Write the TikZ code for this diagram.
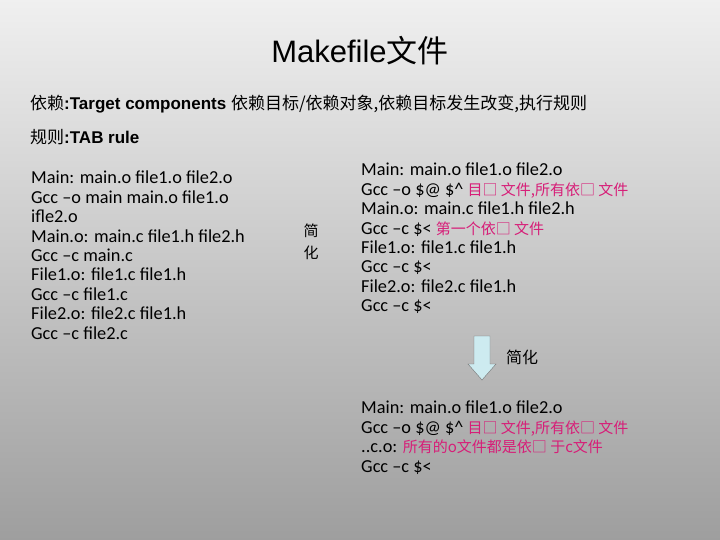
\documentclass[tikz,border=0pt]{standalone}
\usepackage{fontspec}
\setmainfont{Carlito}
\newfontfamily\arialf{Liberation Sans}
\newfontfamily\cjk{Noto Sans CJK SC}
\definecolor{mag}{RGB}{215,30,120}
\definecolor{arrowfill}{RGB}{205,235,240}
\begin{document}
\begin{tikzpicture}[x=1pt,y=-1pt,
  body/.style={anchor=north west,inner sep=0pt,align=left,font=\fontsize{18.3}{19.4}\selectfont},
  hdr/.style={anchor=west,inner sep=0pt,font=\arialf\bfseries\fontsize{17}{18}\selectfont}]
\shade[top color=white!94!black,bottom color=black!38] (0,0) rectangle (720,540);
\useasboundingbox (0,0) rectangle (720,540);
\node[inner sep=0pt,font=\arialf\fontsize{31}{34}\selectfont] (title) at (360,51) {Makefile{\cjk 文件}};
\node[hdr] (h1) at (30,104) {{\cjk\mdseries 依赖}:Target components {\cjk\mdseries 依赖目标/依赖对象,依赖目标发生改变,执行规则}};
\node[hdr] (h2) at (30,137) {{\cjk\mdseries 规则}:TAB rule};
\node[body] (left) at (31,171) {Main: main.o file1.o file2.o\\Gcc –o main main.o file1.o\\ifle2.o\\Main.o: main.c file1.h file2.h\\Gcc –c main.c\\File1.o: file1.c file1.h\\Gcc –c file1.c\\File2.o: file2.c file1.h\\Gcc –c file2.c};
\node[inner sep=0pt,align=center,font=\cjk\fontsize{15}{22}\selectfont] (mid) at (311,242) {简\\化};
\node[body] (right) at (361,163) {Main: main.o file1.o file2.o\\Gcc –o \$@ \$\^{} {\color{mag}\cjk\fontsize{15}{19.4}\selectfont 目□ 文件,所有依□ 文件}\\Main.o: main.c file1.h file2.h\\Gcc –c \$< {\color{mag}\cjk\fontsize{15}{19.4}\selectfont 第一个依□ 文件}\\File1.o: file1.c file1.h\\Gcc –c \$<\\File2.o: file2.c file1.h\\Gcc –c \$<};
\draw[draw=black!55,fill=arrowfill] (474,336) -- (490,336) -- (490,364) -- (496,364) -- (482,380) -- (468,364) -- (474,364) -- cycle;
\node[inner sep=0pt,anchor=west,font=\cjk\fontsize{16}{18}\selectfont] (lab) at (506,357) {简化};
\node[body] (bottom) at (361,401) {Main: main.o file1.o file2.o\\Gcc –o \$@ \$\^{} {\color{mag}\cjk\fontsize{15}{19.4}\selectfont 目□ 文件,所有依□ 文件}\\..c.o: {\color{mag}\cjk\fontsize{15}{19.4}\selectfont 所有的o文件都是依□ 于c文件}\\Gcc –c \$<};
\end{tikzpicture}
\end{document}
